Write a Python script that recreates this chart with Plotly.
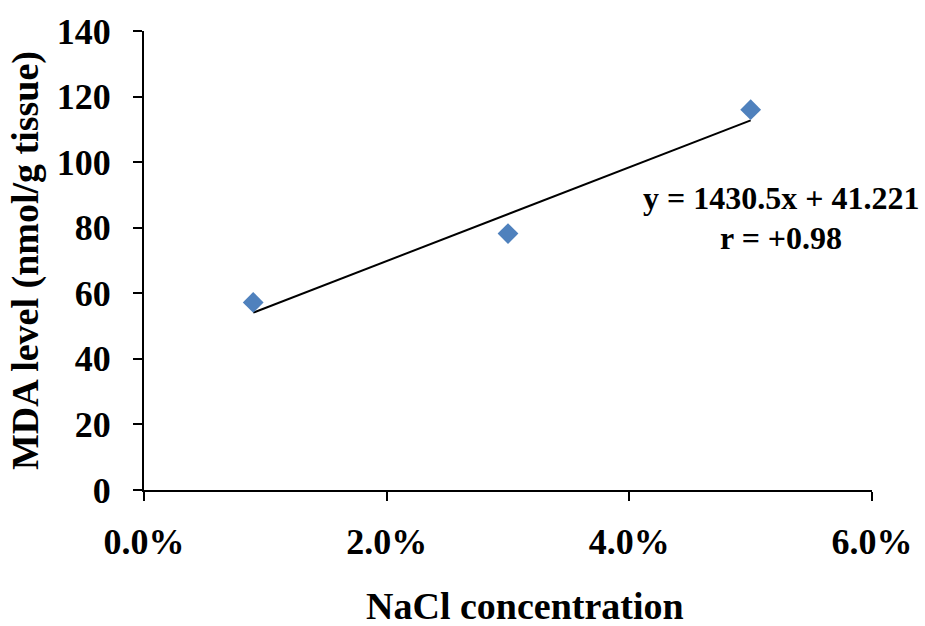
import numpy as np
import plotly.graph_objects as go

# Data
nacl_conc = [0.009, 0.03, 0.05]
mda_level = [57.2, 78.2, 116.0]
trend_slope = 1430.5
trend_intercept = 41.221
eq_text = "y = 1430.5x + 41.221"
r_text = "r = +0.98"
x_title = "NaCl concentration"
y_title = "MDA level (nmol/g tissue)"

FONT = "Liberation Serif, Times New Roman, serif"

tx = np.array([min(nacl_conc), max(nacl_conc)])
ty = trend_slope * tx + trend_intercept

fig = go.Figure()
fig.add_trace(go.Scatter(x=tx, y=ty, mode="lines",
                         line=dict(color="black", width=2), showlegend=False))
fig.add_trace(go.Scatter(x=nacl_conc, y=mda_level, mode="markers",
                         marker=dict(symbol="diamond", size=16, color="#4F81BD"),
                         showlegend=False))

fig.add_annotation(x=0.875, y=0.636, xref="paper", yref="paper",
                   xanchor="center", yanchor="middle",
                   text=f"<b>{eq_text}</b>", showarrow=False,
                   font=dict(family=FONT, size=32, color="black"))
fig.add_annotation(x=0.875, y=0.549, xref="paper", yref="paper",
                   xanchor="center", yanchor="middle",
                   text=f"<b>{r_text}</b>", showarrow=False,
                   font=dict(family=FONT, size=32, color="black"))
fig.add_annotation(x=0.523, y=-0.2527, xref="paper", yref="paper",
                   xanchor="center", yanchor="middle",
                   text=f"<b>{x_title}</b>", showarrow=False,
                   font=dict(family=FONT, size=38, color="black"))

fig.update_layout(
    width=925, height=626,
    margin=dict(l=144, r=53, t=27, b=136),
    paper_bgcolor="white", plot_bgcolor="white",
    font=dict(family=FONT, color="black"),
)
fig.update_xaxes(range=[0, 0.06], dtick=0.02, tickformat=".1%",
                 showgrid=False, zeroline=False, showline=True,
                 linecolor="black", linewidth=2,
                 ticks="outside", ticklen=9, tickwidth=2, tickcolor="black",
                 tickfont=dict(family=FONT, size=36),
                 ticklabelstandoff=10,
                 tickprefix="<b>", ticksuffix="</b>")
fig.update_yaxes(range=[0, 140], dtick=20,
                 showgrid=False, zeroline=False, showline=True,
                 linecolor="black", linewidth=2,
                 ticks="outside", ticklen=9, tickwidth=2, tickcolor="black",
                 tickfont=dict(family=FONT, size=36),
                 ticklabelstandoff=15,
                 title=dict(text=f"<b>{y_title}</b>",
                            font=dict(family=FONT, size=38), standoff=6),
                 tickprefix="<b>", ticksuffix="</b>")

fig.write_html("out.html")
